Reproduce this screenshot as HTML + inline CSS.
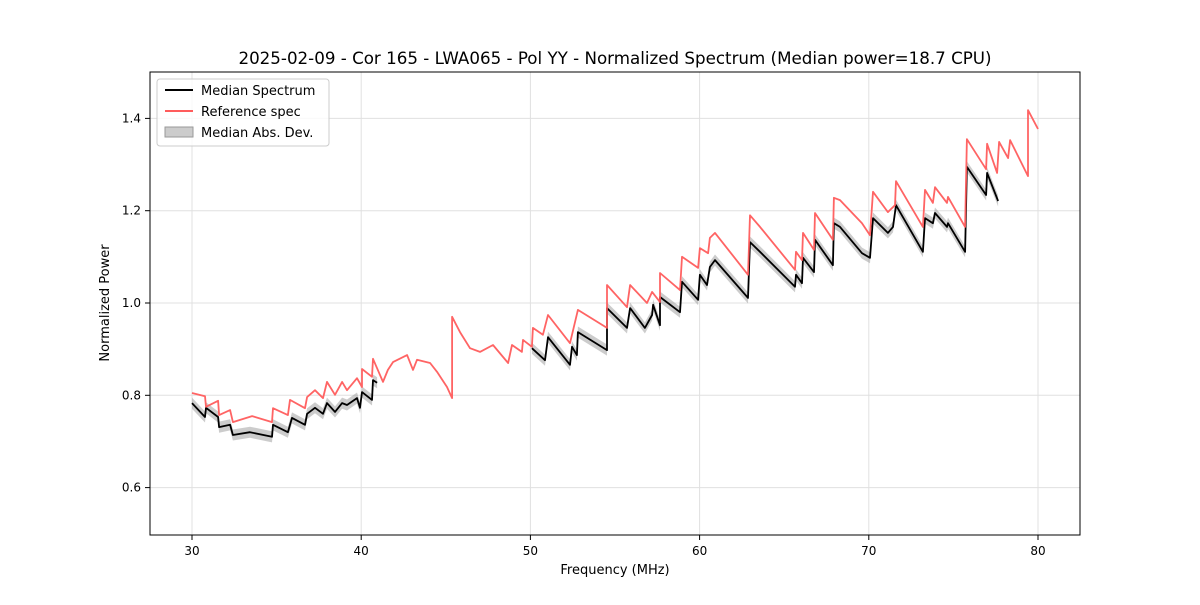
<!DOCTYPE html>
<html><head><meta charset="utf-8"><style>
body{margin:0;background:#fff;font-family:"Liberation Sans","DejaVu Sans",sans-serif}
svg text{font-family:"DejaVu Sans","Liberation Sans",sans-serif}
</style></head><body>
<svg id="chart" width="1200" height="600" xmlns="http://www.w3.org/2000/svg">
<rect width="1200" height="600" fill="#fff"/>
<text x="615" y="64" font-size="16.7" text-anchor="middle">2025-02-09 - Cor 165 - LWA065 - Pol YY - Normalized Spectrum (Median power=18.7 CPU)</text>
<g id="grid"></g>
<g id="marks"></g>
<rect x="150" y="72" width="930" height="463" fill="none" stroke="#000" stroke-width="1"/>
<g id="axes"></g>
<text x="615" y="574" font-size="13" text-anchor="middle">Frequency (MHz)</text>
<text transform="translate(109,303) rotate(-90)" font-size="13" text-anchor="middle">Normalized Power</text>
<g>
<rect x="157" y="79" width="172" height="67" rx="3" fill="#fff" fill-opacity="0.8" stroke="#ccc"/>
<line x1="165" y1="90" x2="193" y2="90" stroke="#000" stroke-width="2"/>
<text x="201" y="95" font-size="13">Median Spectrum</text>
<line x1="165" y1="111" x2="193" y2="111" stroke="#ff5c5c" stroke-width="2"/>
<text x="201" y="116" font-size="13">Reference spec</text>
<rect x="165" y="127" width="28" height="10" fill="#bbb" fill-opacity="0.75" stroke="#999"/>
<text x="201" y="137" font-size="13">Median Abs. Dev.</text>
</g>
</svg>
<script>
const xTicks=[30,40,50,60,70,80];
const yTicks=[0.6,0.8,1.0,1.2,1.4];
const refF=[30.00,30.77,30.83,31.54,31.60,32.25,32.42,33.55,34.73,34.79,35.67,35.79,36.68,36.80,37.27,37.74,37.98,38.45,38.87,39.16,39.75,40.05,40.05,40.64,40.70,41.29,41.58,41.88,42.71,43.06,43.30,44.07,44.48,45.07,45.37,45.37,45.84,46.43,47.02,47.79,48.68,48.91,49.50,49.56,50.09,50.15,50.74,51.04,52.34,52.81,54.53,54.53,55.71,55.89,56.89,57.19,57.66,57.66,58.84,58.96,59.91,60.02,60.50,60.61,60.91,62.86,62.98,63.57,65.64,65.70,66.05,66.11,66.76,66.82,67.88,67.94,68.30,69.60,70.07,70.25,71.13,71.55,71.61,73.20,73.32,73.79,73.91,74.62,74.68,75.69,75.80,76.93,76.99,77.58,77.70,78.23,78.35,79.41,79.41,80.00];
const refV=[0.805,0.798,0.775,0.788,0.757,0.768,0.742,0.755,0.742,0.772,0.757,0.790,0.772,0.796,0.811,0.794,0.829,0.801,0.829,0.811,0.837,0.818,0.857,0.840,0.879,0.829,0.855,0.872,0.887,0.855,0.877,0.870,0.851,0.818,0.794,0.970,0.937,0.902,0.894,0.909,0.870,0.909,0.894,0.920,0.905,0.946,0.931,0.974,0.913,0.985,0.946,1.039,0.991,1.039,1.000,1.024,1.002,1.065,1.028,1.100,1.076,1.119,1.108,1.141,1.152,1.061,1.190,1.165,1.072,1.111,1.093,1.152,1.115,1.195,1.137,1.228,1.223,1.173,1.147,1.241,1.197,1.212,1.264,1.165,1.245,1.217,1.251,1.217,1.230,1.165,1.355,1.290,1.345,1.282,1.349,1.314,1.353,1.275,1.418,1.377];
const medF1=[30.00,30.77,30.83,31.54,31.60,32.25,32.42,33.43,34.73,34.79,35.67,35.91,36.68,36.80,37.27,37.74,37.98,38.45,38.87,39.16,39.75,39.93,40.05,40.64,40.70,40.94];
const medV1=[0.783,0.753,0.773,0.753,0.731,0.736,0.714,0.720,0.710,0.736,0.720,0.751,0.736,0.760,0.773,0.760,0.783,0.764,0.783,0.779,0.794,0.773,0.807,0.790,0.833,0.827];
const medF2=[50.09,50.86,51.04,52.34,52.46,52.75,52.81,54.53,54.53,55.71,55.89,56.77,57.19,57.25,57.66,57.66,58.84,58.96,59.91,60.02,60.44,60.61,60.91,62.86,62.98,63.57,65.64,65.70,66.05,66.11,66.76,66.82,67.88,67.94,68.30,69.60,70.07,70.25,71.13,71.43,71.61,73.20,73.32,73.79,73.91,74.62,74.68,75.69,75.80,76.93,76.99,77.64];
const medV2=[0.902,0.876,0.926,0.866,0.905,0.887,0.937,0.898,0.989,0.946,0.989,0.946,0.974,0.996,0.952,1.013,0.980,1.046,1.007,1.061,1.039,1.078,1.093,1.011,1.132,1.111,1.035,1.061,1.043,1.098,1.067,1.137,1.082,1.173,1.165,1.108,1.098,1.184,1.152,1.165,1.212,1.111,1.184,1.173,1.195,1.165,1.173,1.111,1.295,1.234,1.282,1.221];
const madDev=0.012;

const NS='http://www.w3.org/2000/svg';
const X=f=>192+(f-30)*16.92;
const Y=v=>303-(v-1)*461.5;
function el(tag,attrs,parent){const e=document.createElementNS(NS,tag);for(const k in attrs)e.setAttribute(k,attrs[k]);parent.appendChild(e);return e;}
const grid=document.getElementById('grid'),axes=document.getElementById('axes'),marks=document.getElementById('marks');
xTicks.forEach(t=>{
  const g=el('line',{x1:X(t),x2:X(t),y1:72,y2:535,stroke:'#e0e0e0','stroke-width':1},grid);
  
  
  const tk=el('line',{x1:X(t),x2:X(t),y1:535,y2:540,stroke:'#000'},axes);
  
  
  const tx=el('text',{x:X(t),y:555,'font-size':12,'text-anchor':'middle'},axes);
  tx.textContent=t;
  
  
});
yTicks.forEach(t=>{
  const g=el('line',{x1:150,x2:1080,y1:Y(t),y2:Y(t),stroke:'#e0e0e0','stroke-width':1},grid);
  
  
  const tk=el('line',{x1:145,x2:150,y1:Y(t),y2:Y(t),stroke:'#000'},axes);
  
  
  const tx=el('text',{x:141,y:Y(t)+4,'font-size':12,'text-anchor':'end'},axes);
  tx.textContent=t.toFixed(1);
  
  
});
function linePts(F,V){return F.map((f,i)=>X(f).toFixed(1)+','+Y(V[i]).toFixed(1)).join(' ');}
function bandPts(F,V){const up=F.map((f,i)=>X(f).toFixed(1)+','+Y(V[i]+madDev).toFixed(1));const dn=F.map((f,i)=>X(f).toFixed(1)+','+Y(V[i]-madDev).toFixed(1)).reverse();return up.concat(dn).join(' ');}
[[medF1,medV1],[medF2,medV2]].forEach(([F,V])=>{
  const b=el('polygon',{points:bandPts(F,V),fill:'#999','fill-opacity':0.5,stroke:'none'},marks);
  
  
});
[[medF1,medV1],[medF2,medV2]].forEach(([F,V])=>{
  const l=el('polyline',{points:linePts(F,V),fill:'none',stroke:'#000','stroke-width':1.8,'stroke-linejoin':'round'},marks);
  
  
});
const r=el('polyline',{points:linePts(refF,refV),fill:'none',stroke:'#ff5c5c','stroke-width':1.8,'stroke-opacity':0.95,'stroke-linejoin':'round'},marks);


</script>
</body></html>
